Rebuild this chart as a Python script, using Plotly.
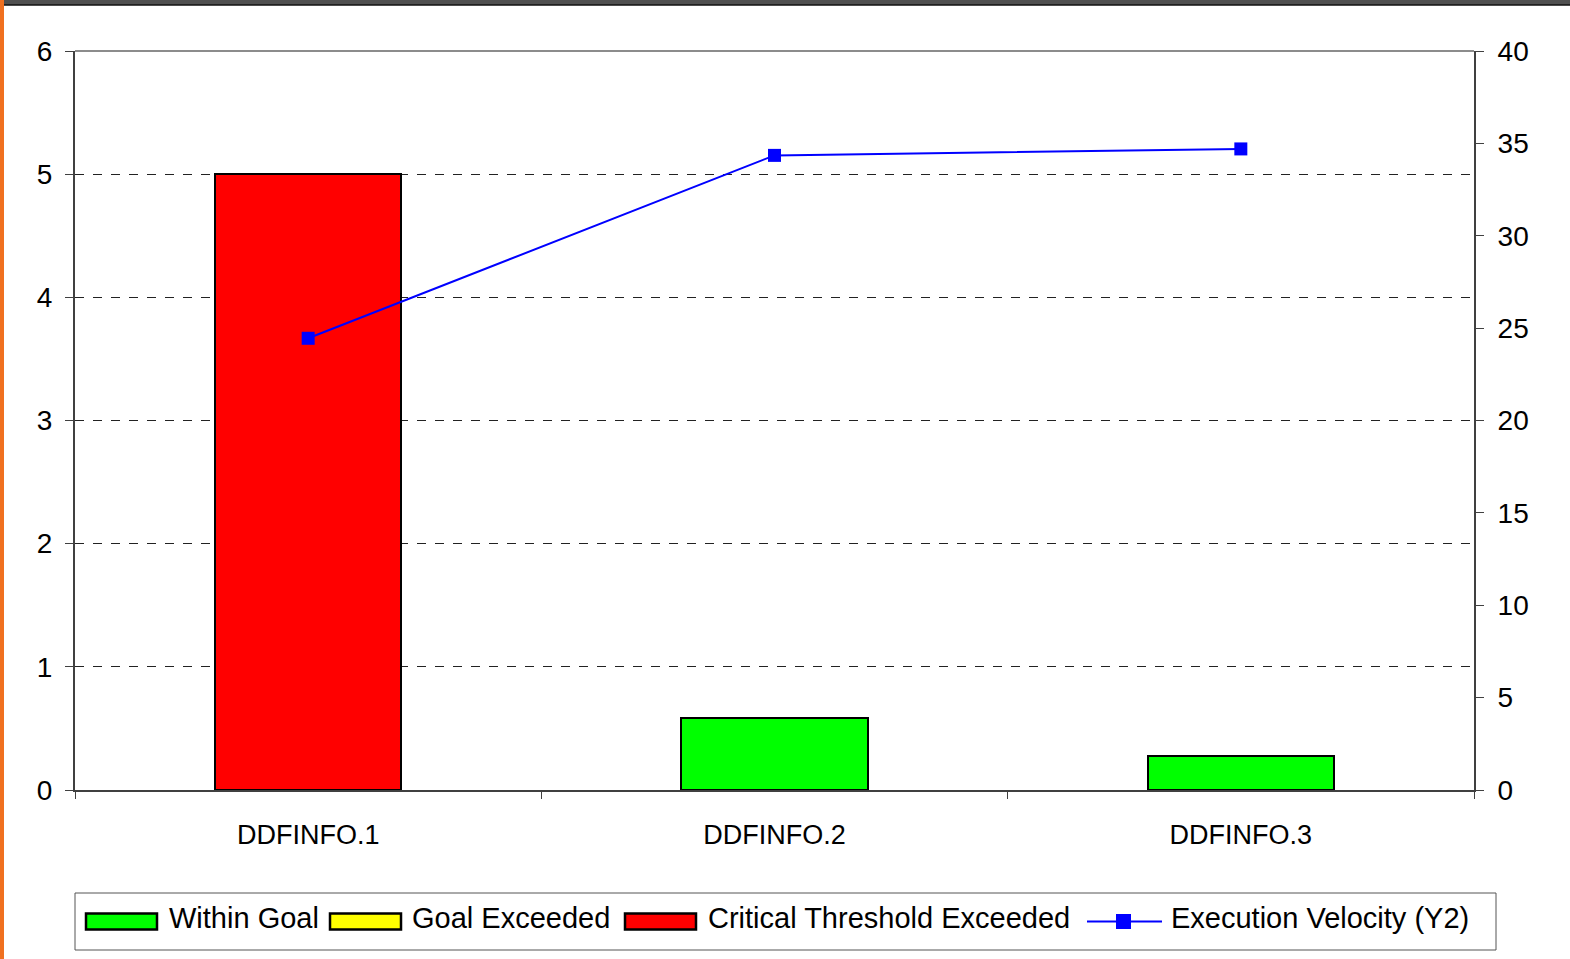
import plotly.graph_objects as go

categories = ["DDFINFO.1", "DDFINFO.2", "DDFINFO.3"]
within_goal = [None, 0.585, 0.28]
goal_exceeded = [None, None, None]
critical = [5, None, None]
velocity = [24.45, 34.35, 34.7]
y_ticks = [0, 1, 2, 3, 4, 5, 6]
y2_ticks = [0, 5, 10, 15, 20, 25, 30, 35, 40]
legend_names = ["Within Goal", "Goal Exceeded", "Critical Threshold Exceeded", "Execution Velocity (Y2)"]
legend_colors = ["#00ff00", "#ffff00", "#ff0000", "#0000ff"]

FONT = "Liberation Sans, Arial, sans-serif"
W, H = 1570, 959
L, R, T, B = 75, 96, 51, 169
pw, ph = W - L - R, H - T - B

fig = go.Figure()
fig.add_bar(x=categories, y=within_goal, name=legend_names[0],
            marker=dict(color=legend_colors[0], line=dict(color="#000000", width=2)))
fig.add_bar(x=categories, y=goal_exceeded, name=legend_names[1],
            marker=dict(color=legend_colors[1], line=dict(color="#000000", width=2)))
fig.add_bar(x=categories, y=critical, name=legend_names[2],
            marker=dict(color=legend_colors[2], line=dict(color="#000000", width=2)))
fig.add_scatter(x=categories, y=velocity, name=legend_names[3], yaxis="y2",
                mode="lines+markers", line=dict(color=legend_colors[3], width=2),
                marker=dict(symbol="square", size=13, color=legend_colors[3]))


def px_x(x):
    return (x - L) / pw


def px_y(y):
    return (H - B - y) / ph


shapes = [
    dict(type="line", xref="paper", yref="paper", x0=0, x1=1, y0=1, y1=1,
         line=dict(color="#8c8c8c", width=2)),
    dict(type="rect", xref="paper", yref="paper", x0=px_x(0), x1=px_x(W), y0=px_y(0), y1=px_y(5),
         fillcolor="#505050", line=dict(width=0), layer="above"),
    dict(type="line", xref="paper", yref="paper", x0=px_x(0), x1=px_x(W), y0=px_y(5), y1=px_y(5),
         line=dict(color="#111111", width=1.5)),
    dict(type="rect", xref="paper", yref="paper", x0=px_x(0), x1=px_x(4), y0=px_y(0), y1=px_y(H),
         fillcolor="#f07020", line=dict(width=0), layer="above"),
]

annotations = []

# custom legend (box, swatches, labels)
box_l, box_r, box_t, box_b = 75, 1496, 893, 950
cy = (box_t + box_b) / 2
ty = cy - 3
shapes.append(dict(type="rect", xref="paper", yref="paper",
                   x0=px_x(box_l), x1=px_x(box_r), y0=px_y(box_b), y1=px_y(box_t),
                   line=dict(color="#555555", width=1), fillcolor="rgba(0,0,0,0)"))
swatch_x = [86, 330, 625]
text_x = [167, 410, 706]
for i in range(3):
    shapes.append(dict(type="rect", xref="paper", yref="paper",
                       x0=px_x(swatch_x[i]), x1=px_x(swatch_x[i] + 71),
                       y0=px_y(cy + 8), y1=px_y(cy - 8),
                       fillcolor=legend_colors[i], line=dict(color="#000000", width=2.5)))
    annotations.append(dict(xref="paper", yref="paper", x=px_x(text_x[i]), y=px_y(ty),
                            xanchor="left", yanchor="middle", showarrow=False,
                            text=legend_names[i], font=dict(size=29, family=FONT, color="#000000")))
# line swatch
shapes.append(dict(type="line", xref="paper", yref="paper",
                   x0=px_x(1087), x1=px_x(1162), y0=px_y(cy), y1=px_y(cy),
                   line=dict(color=legend_colors[3], width=2)))
shapes.append(dict(type="rect", xref="paper", yref="paper",
                   x0=px_x(1116), x1=px_x(1131), y0=px_y(cy + 7.5), y1=px_y(cy - 7.5),
                   fillcolor=legend_colors[3], line=dict(width=0)))
annotations.append(dict(xref="paper", yref="paper", x=px_x(1169), y=px_y(ty),
                        xanchor="left", yanchor="middle", showarrow=False,
                        text=legend_names[3], font=dict(size=29, family=FONT, color="#000000")))

fig.update_layout(
    width=W, height=H,
    margin=dict(l=L, r=R, t=T, b=B, pad=0),
    paper_bgcolor="white", plot_bgcolor="white",
    barmode="stack", bargap=0.6,
    font=dict(family=FONT, size=28, color="#000000"),
    showlegend=False,
    xaxis=dict(type="category", tickson="boundaries", ticks="outside", ticklen=7,
               tickcolor="#404040", showline=True, linecolor="#404040", linewidth=2,
               showgrid=False, tickfont=dict(size=27), ticklabelstandoff=20),
    yaxis=dict(range=[0, 6], tickvals=y_ticks, ticks="outside", ticklen=8,
               tickcolor="#404040", showline=True, linecolor="#404040", linewidth=2,
               showgrid=True, gridcolor="#222222", griddash="dash", gridwidth=1,
               zeroline=False, tickfont=dict(size=28), ticklabelstandoff=7),
    yaxis2=dict(range=[0, 40], tickvals=y2_ticks, overlaying="y", side="right",
                ticks="outside", ticklen=8, tickcolor="#404040", showline=True,
                linecolor="#404040", linewidth=2, showgrid=False, zeroline=False,
                tickfont=dict(size=28), ticklabelstandoff=8),
    shapes=shapes,
    annotations=annotations,
)

fig.write_html("out.html")
